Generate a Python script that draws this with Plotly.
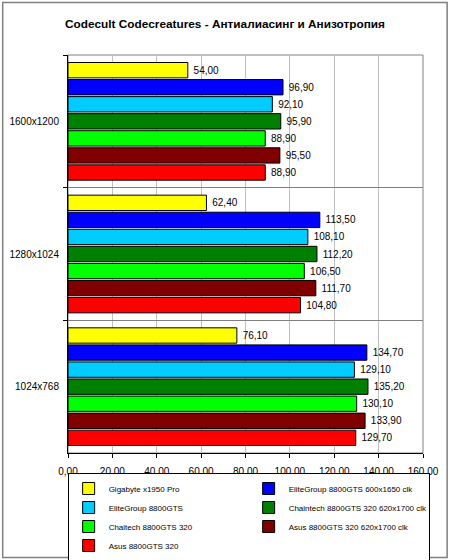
import plotly.graph_objects as go

resolutions = ['1600x1200', '1280x1024', '1024x768']

series_names = [
    'Gigabyte x1950 Pro',
    'EliteGroup 8800GTS 600x1650 clk',
    'EliteGroup 8800GTS',
    'Chaintech 8800GTS 320 620x1700 clk',
    'Chaitech 8800GTS 320',
    'Asus 8800GTS 320 620x1700 clk',
    'Asus 8800GTS 320',
]

gigabyte = [54.00, 62.40, 76.10]
elite_oc = [96.90, 113.50, 134.70]
elite = [92.10, 108.10, 129.10]
chaintech_oc = [95.90, 112.20, 135.20]
chaintech = [88.90, 106.50, 130.10]
asus_oc = [95.50, 111.70, 133.90]
asus = [88.90, 104.80, 129.70]

colors = ['#FFFF00', '#0000FF', '#00CCFF', '#008000', '#00FF00', '#800000', '#FF0000']

font = 'Arial, Liberation Sans, sans-serif'

fig = go.Figure()
for name, vals, col in zip(series_names,
                           [gigabyte, elite_oc, elite, chaintech_oc, chaintech, asus_oc, asus],
                           colors):
    fig.add_trace(go.Bar(
        y=resolutions, x=vals, name=name, orientation='h',
        marker=dict(color=col, line=dict(color='#000000', width=1)),
        texttemplate=' %{x:.2f}', textposition='outside',
        textfont=dict(size=10, color='#000000', family=font),
        cliponaxis=False,
    ))

# outer frame of the picture
fig.add_shape(type='rect', xref='paper', yref='paper',
              x0=-0.184, x1=1.068, y0=-0.2626, y1=1.1319,
              line=dict(color='#808080', width=1.5))
# plot area border
fig.add_shape(type='rect', xref='paper', yref='paper',
              x0=0, x1=1, y0=0, y1=1,
              line=dict(color='#808080', width=1), layer='below')

fig.update_layout(
    width=450, height=560,
    margin=dict(l=67.5, r=27, t=55, b=107, autoexpand=False),
    paper_bgcolor='white', plot_bgcolor='white',
    separators=', ',
    font=dict(family=font, size=10, color='#000000'),
    title=dict(text='<b>Codecult Codecreatures - Антиалиасинг и Анизотропия</b>',
               x=0.5, xanchor='center', y=0.957, yanchor='middle',
               font=dict(size=11.8, family=font)),
    barmode='group', bargap=0.1, bargroupgap=0.1,
    showlegend=True,
    legend=dict(orientation='h', x=-0.001, y=-0.0503, xanchor='left', yanchor='top',
                bordercolor='#000000', borderwidth=1, bgcolor='white',
                font=dict(size=8, family=font),
                itemwidth=30, entrywidth=135, entrywidthmode='pixels',
                traceorder='normal'),
)

fig.update_xaxes(range=[0, 160], dtick=20, tickformat='.2f',
                 showgrid=True, gridcolor='#C0C0C0', gridwidth=1,
                 showline=True, linecolor='#000000', linewidth=1,
                 ticks='outside', ticklen=4, tickcolor='#000000',
                 ticklabelstandoff=5, zeroline=False, tickfont=dict(size=10))
fig.update_yaxes(autorange='reversed', tickson='boundaries',
                 showgrid=True, gridcolor='#808080', gridwidth=1,
                 showline=True, linecolor='#000000', linewidth=1,
                 ticks='outside', ticklen=4, tickcolor='#000000',
                 ticklabelstandoff=6, tickfont=dict(size=10))

# the page body has an 8px default margin; drop it so the chart sits at 0,0
fig.write_html('out.html', config={'displayModeBar': False},
               post_script="document.body.style.margin='0';")
